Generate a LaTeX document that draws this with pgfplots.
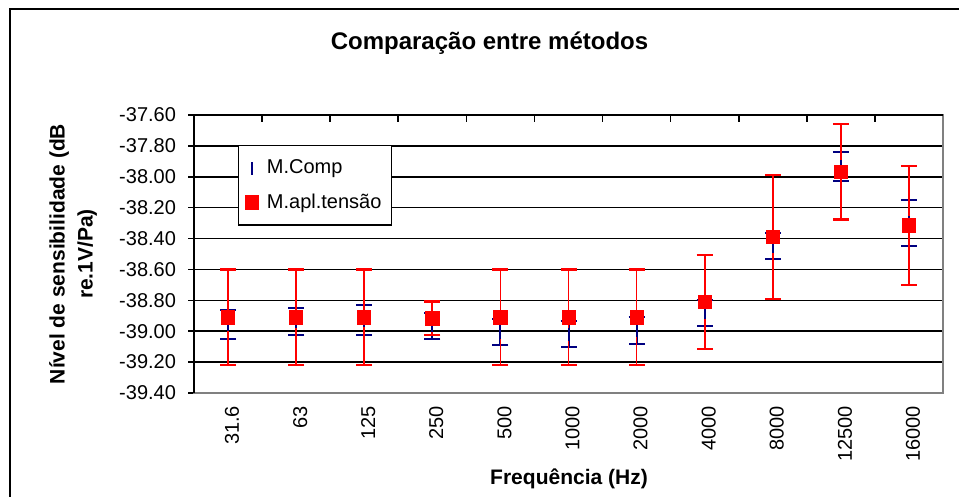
\documentclass[border=0pt]{standalone}
\usepackage{fontspec}
\setmainfont{Liberation Sans}
\usepackage{pgfplots}
\pgfplotsset{compat=1.18}
\definecolor{navyb}{RGB}{0,0,128}
\definecolor{redm}{RGB}{255,0,0}
\pgfplotstableread{
x y e
0 -38.955 0.095
1 -38.937 0.090
2 -38.930 0.097
3 -38.965 0.085
4 -39.005 0.085
5 -39.020 0.085
6 -38.995 0.085
7 -38.880 0.085
8 -38.450 0.085
9 -37.934 0.095
10 -38.297 0.148
}\comp
\pgfplotstableread{
x y e
0 -38.910 0.310
1 -38.910 0.310
2 -38.910 0.310
3 -38.917 0.110
4 -38.910 0.310
5 -38.910 0.310
6 -38.910 0.310
7 -38.810 0.305
8 -38.390 0.400
9 -37.967 0.310
10 -38.315 0.385
}\tensao
\begin{document}
\begin{tikzpicture}
\useasboundingbox (0pt,-248.5pt) rectangle (479.5pt,0pt);
\draw[line width=1.3pt] (5pt,-260pt) -- (5pt,-4.5pt) -- (490pt,-4.5pt);
\node[font=\fontsize{12}{14}\selectfont\bfseries] at (244.75pt,-21.5pt) {Comparação entre métodos};
\node[font=\fontsize{10.5}{14}\selectfont\bfseries, rotate=90, align=center] at (36.5pt,-127pt) {Nível de sensibilidade (dB\\re.1V/Pa)};
\node[font=\fontsize{10.5}{13}\selectfont\bfseries] at (284.5pt,-239.5pt) {Frequência (Hz)};
\begin{axis}[
  at={(97pt,-196.5pt)}, anchor=south west,
  width=374.5pt, height=139pt, scale only axis,
  xmin=-0.5, xmax=10.5, ymin=-39.4, ymax=-37.6,
  ytick={-39.4,-39.2,-39.0,-38.8,-38.6,-38.4,-38.2,-38.0,-37.8,-37.6},
  ymajorgrids, grid style={black, line width=0.8pt},
  axis line style={draw=gray, line width=1pt},
  xtick={0,1,2,3,4,5,6,7,8,9,10},
  xticklabels={31.6,63,125,250,500,1000,2000,4000,8000,12500,16000},
  x tick style={draw=none},
  xticklabel style={rotate=90, anchor=east, font=\fontsize{10}{12}\selectfont, yshift=-2pt},
  ytick pos=left, tick align=center, major tick length=6pt,
  y tick style={black, line width=0.8pt},
  yticklabel style={font=\fontsize{10}{12}\selectfont, xshift=-2.5pt, /pgf/number format/fixed, /pgf/number format/fixed zerofill, /pgf/number format/precision=2, /pgf/number format/assume math mode=true},
  clip=false,
  legend cell align=left,
  legend style={at={(0.0587,0.892)}, anchor=north west, draw=black, line width=0.6pt,
    font=\fontsize{10}{12}\selectfont, row sep=4.5pt, inner xsep=3pt, inner ysep=5pt,
    /tikz/every odd column/.append style={column sep=2pt}},
]
\addlegendimage{legend image code/.code={\draw[navyb, line width=1pt] (0.3cm,-3.3pt) -- (0.3cm,3.3pt);}}
\addlegendentry{M.Comp}
\addlegendimage{legend image code/.code={\fill[redm] (0.3cm-3.3pt,-3.3pt) rectangle (0.3cm+3.3pt,3.3pt);}}
\addlegendentry{M.apl.tensão}
\addplot[forget plot, navyb, only marks, mark=|, mark size=3.3pt, line width=1pt,
  error bars/.cd, y dir=both, y explicit,
  error bar style={navyb, line width=1pt},
  error mark options={navyb, rotate=90, mark size=4pt, line width=1pt}]
  table[x=x, y=y, y error=e] {\comp};
\addplot[forget plot, redm, only marks, mark=square*, mark size=3.3pt,
  error bars/.cd, y dir=both, y explicit,
  error bar style={redm, line width=0.9pt},
  error mark options={redm, rotate=90, mark size=4pt, line width=1.1pt}]
  table[x=x, y=y, y error=e] {\tensao};
\draw[black, line width=1pt] (rel axis cs:0,0) -- (rel axis cs:0,1) -- (rel axis cs:1,1);
\pgfplotsinvokeforeach{0.5,1.5,2.5,3.5,4.5,5.5,6.5,7.5,8.5,9.5}{
  \draw[black, line width=0.8pt] (axis cs:#1,-37.6) -- ++(0pt,-3.5pt);
}
\end{axis}
\end{tikzpicture}
\end{document}
